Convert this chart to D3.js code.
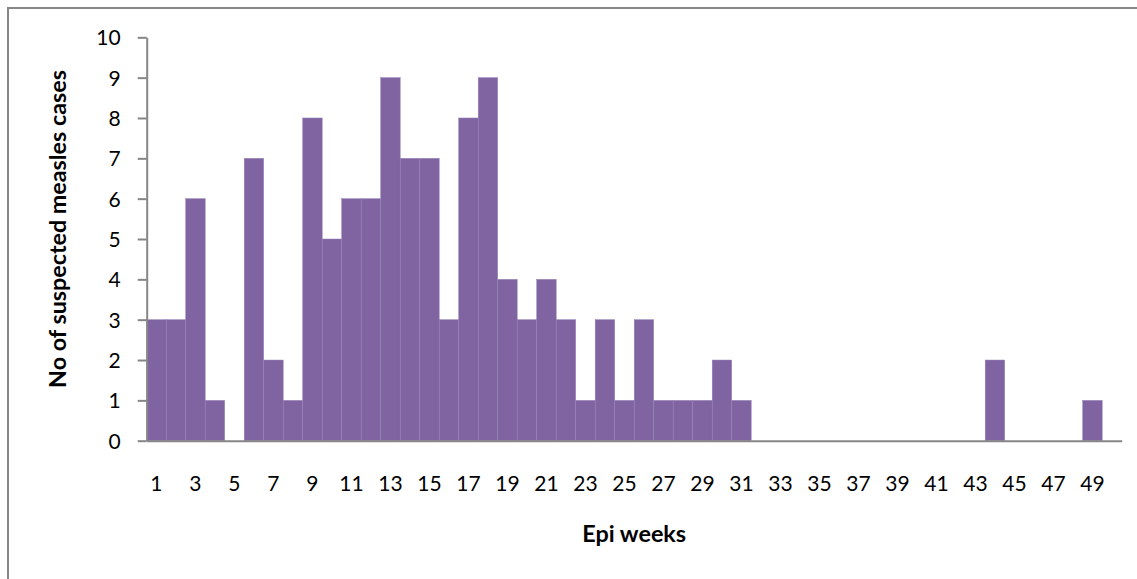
<!DOCTYPE html>
<html>
<head>
<meta charset="utf-8">
<script src="https://cdn.jsdelivr.net/npm/d3@7/dist/d3.min.js"></script>
<style>
  html, body { margin: 0; padding: 0; background: #fff; }
  svg { display: block; }
  text { font-family: Lato, "Open Sans", "Liberation Sans", sans-serif; fill: #000; }
</style>
</head>
<body>
<svg id="chart" width="1137" height="579"></svg>
<script>
// Suspected measles cases reported per epidemiological week
const weeks = d3.range(1, 51);
const cases = [
  3, 3, 6, 1, 0, 7, 2, 1, 8, 5,
  6, 6, 9, 7, 7, 3, 8, 9, 4, 3,
  4, 3, 1, 3, 1, 3, 1, 1, 1, 2,
  1, 0, 0, 0, 0, 0, 0, 0, 0, 0,
  0, 0, 0, 2, 0, 0, 0, 0, 1, 0
];
const weekLabels = weeks.filter(w => w % 2 === 1);
const yTicks = d3.range(0, 11);
const yTitle = "No of suspected measles cases";
const xTitle = "Epi weeks";

const svg = d3.select("#chart");
const W = 1137, H = 579;
const plot = { left: 146.7, right: 1121.7, top: 37.3, bottom: 440.7 };
const axisColor = "#868686";
const barColor = "#8064A2";

// outer chart frame (runs off the right and bottom edges)
svg.append("rect")
  .attr("x", 8).attr("y", 8)
  .attr("width", W + 10).attr("height", H + 10)
  .attr("fill", "#fff")
  .attr("stroke", axisColor)
  .attr("stroke-width", 2);

const x = d3.scaleBand().domain(weeks).range([plot.left, plot.right]).padding(0);
const y = d3.scaleLinear().domain([0, 10]).range([plot.bottom, plot.top]);

// bars, no gap between weeks
svg.append("g")
  .selectAll("rect")
  .data(weeks.map((w, i) => ({ week: w, value: cases[i] })).filter(d => d.value > 0))
  .join("rect")
  .attr("x", d => x(d.week))
  .attr("y", d => y(d.value))
  .attr("width", x.bandwidth())
  .attr("height", d => y(0) - y(d.value))
  .attr("fill", barColor)
  .attr("stroke", "#9582b7")
  .attr("stroke-width", 0.5);

// y axis
const yAxis = svg.append("g")
  .attr("transform", `translate(${plot.left},0)`)
  .call(d3.axisLeft(y).tickValues(yTicks).tickFormat(d3.format("d")).tickSize(9).tickSizeOuter(0).tickPadding(17));
yAxis.select(".domain").attr("stroke", axisColor).attr("stroke-width", 2);
yAxis.selectAll(".tick line").attr("stroke", axisColor).attr("stroke-width", 2);
yAxis.selectAll(".tick text").attr("font-size", 21).attr("font-family", null).attr("dy", "0.36em");

// x axis
const xAxis = svg.append("g")
  .attr("transform", `translate(0,${plot.bottom})`)
  .call(d3.axisBottom(x).tickValues(weekLabels).tickSize(0).tickSizeOuter(0));
xAxis.select(".domain").attr("stroke", axisColor).attr("stroke-width", 2);
xAxis.selectAll(".tick text")
  .attr("font-size", 21).attr("font-family", null)
  .attr("dy", null).attr("y", 50);

// size a bold title so its run spans the given length
function fitText(sel, length) {
  sel.attr("font-size", 20);
  const w = sel.node().getComputedTextLength();
  sel.attr("font-size", 20 * length / w);
}

// axis titles
const yt = svg.append("text")
  .attr("transform", `translate(66,229) rotate(-90)`)
  .attr("text-anchor", "middle")
  .attr("font-weight", "bold")
  .text(yTitle);
fitText(yt, 318);

const xt = svg.append("text")
  .attr("x", (plot.left + plot.right) / 2)
  .attr("y", 542)
  .attr("text-anchor", "middle")
  .attr("font-weight", "bold")
  .text(xTitle);
fitText(xt, 104);
</script>
</body>
</html>
